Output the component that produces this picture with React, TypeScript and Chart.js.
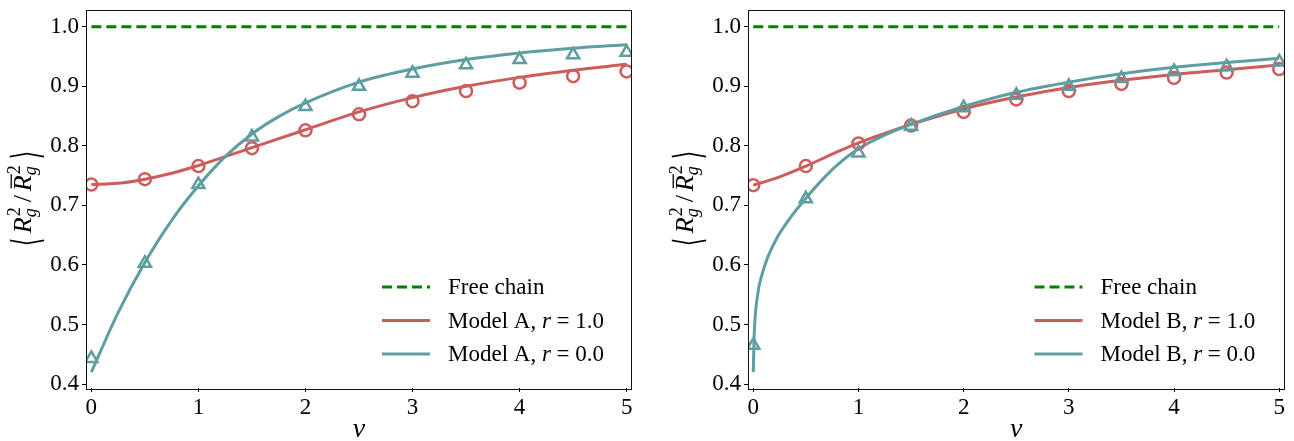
import React, { useEffect, useRef } from 'react';
import { Chart, registerables } from 'chart.js';
Chart.register(...registerables);

// ---------------- data ----------------
const markerV = [0, 0.5, 1, 1.5, 2, 2.5, 3, 3.5, 4, 4.5, 5];
const xTicks = [0, 1, 2, 3, 4, 5];
const yTicks = [0.4, 0.5, 0.6, 0.7, 0.8, 0.9, 1.0];

const freeV = [0, 5];
const freeY = [1.0, 1.0];

// Model A
const modelA_r1_markers = [0.735, 0.744, 0.766, 0.796, 0.826, 0.853, 0.875, 0.892, 0.906, 0.917, 0.925];
const modelA_r0_markers = [0.443, 0.603, 0.735, 0.815, 0.866, 0.900, 0.922, 0.936, 0.945, 0.953, 0.957];
const modelA_r1_fitV = [0, 0.25, 0.5, 0.75, 1, 1.5, 2, 2.5, 3, 3.5, 4, 4.5, 5];
const modelA_r1_fit = [0.735, 0.737, 0.744, 0.754, 0.767, 0.797, 0.827, 0.857, 0.881, 0.900, 0.915, 0.927, 0.937];
const modelA_r0_fitV = [0, 0.25, 0.5, 0.75, 1, 1.25, 1.5, 1.75, 2, 2.5, 3, 3.5, 4, 4.5, 5];
const modelA_r0_fit = [0.420, 0.520, 0.604, 0.675, 0.733, 0.782, 0.820, 0.849, 0.872, 0.907, 0.929, 0.945, 0.956, 0.964, 0.970];

// Model B
const modelB_r1_markers = [0.734, 0.766, 0.804, 0.834, 0.857, 0.878, 0.892, 0.904, 0.914, 0.923, 0.929];
const modelB_r0_markers = [0.465, 0.711, 0.788, 0.833, 0.864, 0.885, 0.900, 0.913, 0.925, 0.933, 0.941];
const modelB_r1_fitV = [0, 0.25, 0.5, 0.75, 1, 1.25, 1.5, 2, 2.5, 3, 3.5, 4, 4.5, 5];
const modelB_r1_fit = [0.734, 0.748, 0.766, 0.786, 0.805, 0.821, 0.836, 0.862, 0.882, 0.898, 0.910, 0.920, 0.928, 0.936];
const modelB_r0_fitV = [0, 0.01, 0.04, 0.08, 0.14, 0.23, 0.36, 0.5, 0.65, 0.8, 1, 1.25, 1.5, 2, 2.5, 3, 3.5, 4, 4.5, 5];
const modelB_r0_fit = [0.420, 0.487, 0.548, 0.582, 0.614, 0.647, 0.681, 0.712, 0.742, 0.768, 0.795, 0.818, 0.836, 0.866, 0.890, 0.907, 0.921, 0.932, 0.940, 0.947];

// ---------------- style ----------------
const SERIF = "'Liberation Serif', 'Times New Roman', serif";
const GREEN = '#008000';
const RED = '#CD5C5C';
const TEAL = '#5F9EA0';
const TICK_SIZE = 23;

const pts = (xs: number[], ys: number[]) => xs.map((x, i) => ({ x, y: ys[i] }));

type Seg = { t: string; italic?: boolean };

function drawSegs(ctx: CanvasRenderingContext2D, segs: Seg[], x: number, y: number, size: number) {
  let cx = x;
  for (const s of segs) {
    ctx.font = `${s.italic ? 'italic ' : ''}${size}px ${SERIF}`;
    ctx.fillText(s.t, cx, y);
    cx += ctx.measureText(s.t).width;
  }
}

// thin, tall angle bracket drawn as a (vertically stretched) text glyph
function drawBracket(ctx: CanvasRenderingContext2D, ch: string, x: number, top: number, bottom: number) {
  const size = 22;
  ctx.font = `${size}px 'DejaVu Sans', 'DejaVu Serif', serif`;
  const m = ctx.measureText(ch);
  const h = m.actualBoundingBoxAscent + m.actualBoundingBoxDescent;
  const sy = (bottom - top) / h;
  ctx.save();
  ctx.translate(x - m.actualBoundingBoxLeft, top);
  ctx.scale(1, sy);
  ctx.fillText(ch, 0, m.actualBoundingBoxAscent);
  ctx.restore();
  return m.actualBoundingBoxLeft + m.actualBoundingBoxRight;
}

function drawYLabel(ctx: CanvasRenderingContext2D, baseX: number, cy: number) {
  const main = 26;
  const scr = 18;
  ctx.save();
  ctx.translate(baseX, cy);
  ctx.rotate(-Math.PI / 2);
  ctx.fillStyle = '#000';
  ctx.textBaseline = 'alphabetic';
  ctx.textAlign = 'left';

  ctx.font = `italic ${main}px ${SERIF}`;
  const wR = ctx.measureText('R').width;
  ctx.font = `${scr}px ${SERIF}`;
  const w2 = ctx.measureText('2').width;
  ctx.font = `italic ${scr}px ${SERIF}`;
  const wg = ctx.measureText('g').width;
  const wScr = Math.max(w2, wg) + 2;
  ctx.font = `${main}px ${SERIF}`;
  const wSlash = ctx.measureText('/').width;
  const bracketW = 10;
  const gap = 4;
  const total = bracketW + gap + wR + wScr + gap + wSlash + gap + wR + wScr + gap + bracketW;
  let x = -total / 2;
  const bTop = -22;
  const bBot = 13;

  drawBracket(ctx, '\u27E8', x, bTop, bBot);
  x += bracketW + gap;
  const drawRScripts = (bar: boolean) => {
    ctx.font = `italic ${main}px ${SERIF}`;
    ctx.fillText('R', x, 0);
    if (bar) {
      ctx.strokeStyle = '#000';
      ctx.lineWidth = 1.3;
      ctx.beginPath();
      ctx.moveTo(x + 3, -main * 0.76);
      ctx.lineTo(x + wR + 1, -main * 0.76);
      ctx.stroke();
    }
    x += wR;
    ctx.font = `${scr}px ${SERIF}`;
    ctx.fillText('2', x + 1, -11);
    ctx.font = `italic ${scr}px ${SERIF}`;
    ctx.fillText('g', x, 5);
    x += wScr;
  };
  drawRScripts(false);
  x += gap;
  ctx.font = `${main}px ${SERIF}`;
  ctx.fillText('/', x, 0);
  x += wSlash + gap;
  drawRScripts(true);
  x += gap;
  drawBracket(ctx, '\u27E9', x, bTop, bBot);
  ctx.restore();
}

type LegendItem = { label: Seg[]; color: string; dash: number[] };

function makePlugin(legend: LegendItem[]) {
  return {
    id: 'decor',
    afterDraw(chart: any) {
      const ctx: CanvasRenderingContext2D = chart.ctx;
      const a = chart.chartArea;
      ctx.save();
      // frame
      ctx.strokeStyle = '#111';
      ctx.lineWidth = 1;
      ctx.setLineDash([]);
      ctx.strokeRect(Math.round(a.left) + 0.5, Math.round(a.top) + 0.5, Math.round(a.right - a.left) - 1, Math.round(a.bottom - a.top));
      // x label
      ctx.fillStyle = '#000';
      ctx.font = `italic 28px ${SERIF}`;
      ctx.textAlign = 'center';
      ctx.textBaseline = 'alphabetic';
      ctx.fillText('v', (a.left + a.right) / 2, 437);
      // y label
      drawYLabel(ctx, a.left - 55, (a.top + a.bottom) / 2);
      // legend
      ctx.textAlign = 'left';
      ctx.textBaseline = 'middle';
      const rows = [-101, -67.5, -34];
      legend.forEach((it, i) => {
        const y = a.bottom + rows[i];
        ctx.strokeStyle = it.color;
        ctx.lineWidth = 3;
        ctx.setLineDash(it.dash);
        ctx.beginPath();
        ctx.moveTo(a.right - 250, y);
        ctx.lineTo(a.right - 202, y);
        ctx.stroke();
        ctx.setLineDash([]);
        ctx.fillStyle = '#000';
        drawSegs(ctx, it.label, a.right - 184, y + 1, TICK_SIZE);
      });
      ctx.restore();
    },
  };
}

type PanelProps = {
  model: string;
  r1Markers: number[];
  r0Markers: number[];
  r1FitV: number[];
  r1Fit: number[];
  r0FitV: number[];
  r0Fit: number[];
  yAxisWidth: number;
  padRight: number;
  left: number;
};

function Panel(p: PanelProps) {
  const ref = useRef<HTMLCanvasElement | null>(null);
  useEffect(() => {
    if (!ref.current) return;
    const legend: LegendItem[] = [
      { label: [{ t: 'Free chain' }], color: GREEN, dash: [10, 5] },
      { label: [{ t: `Model ${p.model}, ` }, { t: 'r', italic: true }, { t: ' = 1.0' }], color: RED, dash: [] },
      { label: [{ t: `Model ${p.model}, ` }, { t: 'r', italic: true }, { t: ' = 0.0' }], color: TEAL, dash: [] },
    ];
    const chart = new Chart(ref.current, {
      type: 'scatter',
      data: {
        datasets: [
          {
            label: `Model ${p.model}, r=0.0 data`,
            data: pts(markerV, p.r0Markers),
            pointStyle: 'triangle',
            pointRadius: 7,
            pointBorderWidth: 2.5,
            borderColor: TEAL,
            backgroundColor: 'rgba(0,0,0,0)',
            showLine: false,
          },
          {
            label: `Model ${p.model}, r=1.0 data`,
            data: pts(markerV, p.r1Markers),
            pointStyle: 'circle',
            pointRadius: 6,
            pointBorderWidth: 2.5,
            borderColor: RED,
            backgroundColor: 'rgba(0,0,0,0)',
            showLine: false,
          },
          {
            label: `Model ${p.model}, r = 0.0`,
            data: pts(p.r0FitV, p.r0Fit),
            borderColor: TEAL,
            borderWidth: 3,
            pointRadius: 0,
            showLine: true,
            cubicInterpolationMode: 'monotone',
          },
          {
            label: `Model ${p.model}, r = 1.0`,
            data: pts(p.r1FitV, p.r1Fit),
            borderColor: RED,
            borderWidth: 3,
            pointRadius: 0,
            showLine: true,
            cubicInterpolationMode: 'monotone',
          },
          {
            label: 'Free chain',
            data: pts(freeV, freeY),
            borderColor: GREEN,
            borderWidth: 3,
            borderDash: [10, 5],
            pointRadius: 0,
            showLine: true,
          },
        ],
      } as any,
      options: {
        animation: false,
        responsive: false,
        events: [],
        layout: { padding: { left: 0, right: p.padRight, top: 9, bottom: 0 } },
        plugins: { legend: { display: false }, tooltip: { enabled: false } },
        scales: {
          x: {
            type: 'linear',
            min: -0.05,
            max: 5.05,
            afterBuildTicks: (axis: any) => {
              axis.ticks = xTicks.map((v) => ({ value: v }));
            },
            afterFit: (axis: any) => {
              axis.height = 53;
              axis.paddingLeft = 0;
              axis.paddingRight = 0;
            },
            ticks: {
              autoSkip: false,
              maxRotation: 0,
              padding: 2,
              color: '#000',
              font: { family: SERIF, size: TICK_SIZE },
              callback: (v: any) => String(v),
            },
            grid: { drawOnChartArea: false, drawTicks: true, tickLength: 4, color: '#000', lineWidth: 1 },
            border: { display: false },
          },
          y: {
            type: 'linear',
            min: 0.3933,
            max: 1.029,
            afterBuildTicks: (axis: any) => {
              axis.ticks = yTicks.map((v) => ({ value: v }));
            },
            afterFit: (axis: any) => {
              axis.width = p.yAxisWidth;
              axis.paddingTop = 0;
              axis.paddingBottom = 0;
            },
            ticks: {
              autoSkip: false,
              padding: 3,
              color: '#000',
              font: { family: SERIF, size: TICK_SIZE },
              callback: (v: any) => Number(v).toFixed(1),
            },
            grid: { drawOnChartArea: false, drawTicks: true, tickLength: 4, color: '#000', lineWidth: 1 },
            border: { display: false },
          },
        },
      } as any,
      plugins: [makePlugin(legend)],
    });
    return () => chart.destroy();
  }, []);
  return (
    <canvas
      ref={ref}
      width={647}
      height={441}
      style={{ position: 'absolute', left: p.left, top: 0, width: 647, height: 441 }}
    />
  );
}

export default function App() {
  return (
    <div style={{ position: 'fixed', left: 0, top: 0, width: 1294, height: 441, background: '#fff' }}>
      <Panel
        model="A"
        r1Markers={modelA_r1_markers}
        r0Markers={modelA_r0_markers}
        r1FitV={modelA_r1_fitV}
        r1Fit={modelA_r1_fit}
        r0FitV={modelA_r0_fitV}
        r0Fit={modelA_r0_fit}
        yAxisWidth={86}
        padRight={15}
        left={0}
      />
      <Panel
        model="B"
        r1Markers={modelB_r1_markers}
        r0Markers={modelB_r0_markers}
        r1FitV={modelB_r1_fitV}
        r1Fit={modelB_r1_fit}
        r0FitV={modelB_r0_fitV}
        r0Fit={modelB_r0_fit}
        yAxisWidth={101}
        padRight={1}
        left={647}
      />
    </div>
  );
}
